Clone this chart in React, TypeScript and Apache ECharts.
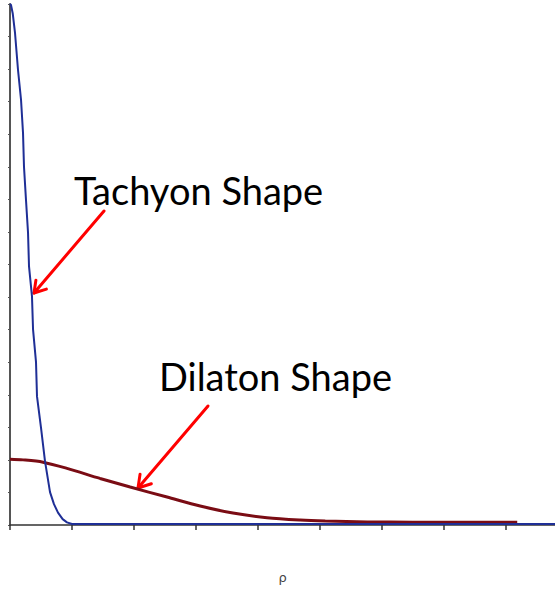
import React, { useEffect, useRef } from "react";
import * as echarts from "echarts";

// Tachyon shape (blue) — rho, value
const tachyonRho = [0, 0.016, 0.045, 0.081, 0.129, 0.178, 0.21, 0.226, 0.258, 0.291, 0.307, 0.355, 0.372, 0.42, 0.436, 0.5, 0.565, 0.646, 0.71, 0.775, 0.85, 0.92, 1.0, 2.0, 4.0, 6.0, 8.0, 8.8];
const tachyonVal = [16.0, 15.97, 15.7, 15.11, 13.98, 13.06, 12.05, 11.0, 9.99, 8.98, 7.94, 7.02, 6.01, 5.0, 3.95, 3.0, 1.96, 1.01, 0.64, 0.38, 0.18, 0.08, 0.03, 0.03, 0.03, 0.03, 0.03, 0.03];

// Dilaton shape (dark red) — rho, value
const dilatonRho = [0, 0.21, 0.533, 0.92, 1.454, 1.94, 2.536, 3.07, 3.6, 4.15, 4.685, 5.09, 5.77, 6.5, 7.3, 8.19];
const dilatonVal = [2.02, 2.0, 1.93, 1.74, 1.43, 1.165, 0.858, 0.582, 0.368, 0.225, 0.153, 0.123, 0.095, 0.088, 0.085, 0.085];

const xTickValues = [0, 1, 2, 3, 4, 5, 6, 7, 8];
const xAxisName = "ρ";
const labels = ["Tachyon Shape", "Dilaton Shape"];

function arrow(x0: number, y0: number, x1: number, y1: number, len: number) {
  const dx = x0 - x1;
  const dy = y0 - y1;
  const d = Math.hypot(dx, dy);
  const ux = dx / d;
  const uy = dy / d;
  const a = (32 * Math.PI) / 180;
  const c = Math.cos(a);
  const s = Math.sin(a);
  const p1 = [x1 + len * (ux * c - uy * s), y1 + len * (ux * s + uy * c)];
  const p2 = [x1 + len * (ux * c + uy * s), y1 + len * (-ux * s + uy * c)];
  const style = { stroke: "#ff0000", lineWidth: 3, lineCap: "round", lineJoin: "round", fill: null };
  return [
    { type: "line", shape: { x1: x0, y1: y0, x2: x1, y2: y1 }, style },
    { type: "polyline", shape: { points: [p1, [x1, y1], p2] }, style },
  ];
}

export default function App() {
  const ref = useRef<HTMLDivElement>(null);
  useEffect(() => {
    if (!ref.current) return;
    const chart = echarts.init(ref.current, null, { renderer: "svg" });
    const tData = tachyonRho.map((x, i) => [x, tachyonVal[i]]);
    const dData = dilatonRho.map((x, i) => [x, dilatonVal[i]]);
    chart.setOption({
      animation: false,
      backgroundColor: "#ffffff",
      grid: { left: 10, right: 0, top: 4, bottom: 63, containLabel: false },
      xAxis: {
        type: "value",
        min: 0,
        max: 8.8,
        interval: 1,
        name: xAxisName,
        nameLocation: "middle",
        nameGap: 46,
        nameTextStyle: { fontSize: 13, color: "#444", fontFamily: "DejaVu Sans" },
        axisLine: { show: true, onZero: false, lineStyle: { color: "#333", width: 1.5 } },
        axisTick: { show: true, length: 5, customValues: xTickValues, lineStyle: { color: "#333", width: 1.5 } },
        axisLabel: { show: false },
        splitLine: { show: false },
      },
      yAxis: {
        type: "value",
        min: 0,
        max: 16,
        interval: 1,
        axisLine: { show: true, onZero: false, lineStyle: { color: "#555", width: 2 } },
        axisTick: { show: true, length: 2, lineStyle: { color: "#555", width: 1 } },
        axisLabel: { show: false },
        splitLine: { show: false },
      },
      series: [
        {
          name: "Dilaton",
          type: "line",
          data: dData,
          showSymbol: false,
          smooth: 0.3,
          lineStyle: { color: "#7a0c14", width: 3 },
          z: 2,
        },
        {
          name: "Tachyon",
          type: "line",
          data: tData,
          showSymbol: false,
          smooth: false,
          lineStyle: { color: "#1f2f96", width: 2, join: "round" },
          z: 3,
        },
      ],
      graphic: [
        {
          type: "text",
          x: 74,
          y: 190,
          style: { text: labels[0], fontSize: 38, fontFamily: "Lato", fill: "#000", textAlign: "left", textVerticalAlign: "middle" },
        },
        {
          type: "text",
          x: 159,
          y: 376,
          style: { text: labels[1], fontSize: 38, fontFamily: "Lato", fill: "#000", textAlign: "left", textVerticalAlign: "middle" },
        },
        ...arrow(104, 211, 34, 293, 13),
        ...arrow(208, 406, 138, 488, 14),
      ],
    });
    return () => chart.dispose();
  }, []);
  return <div ref={ref} style={{ position: "fixed", left: 0, top: 0, width: 555, height: 589 }} />;
}
